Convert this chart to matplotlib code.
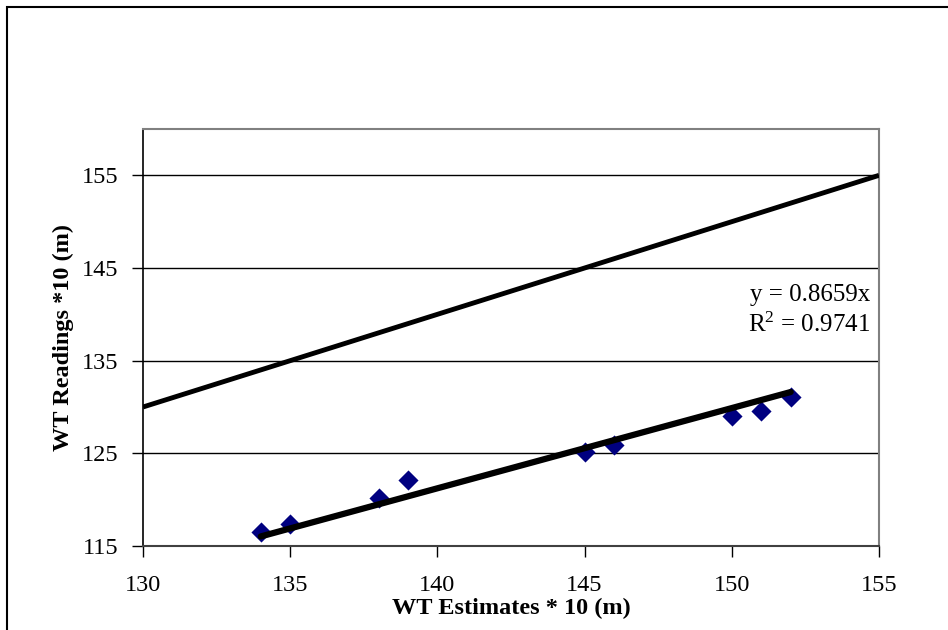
import matplotlib.pyplot as plt
import numpy as np
from matplotlib.patches import Rectangle

# WT estimates vs readings (both * 10, m)
estimates = [134, 135, 138, 139, 145, 146, 150, 151, 152]
readings = [116.5, 117.4, 120.2, 122.1, 125.1, 125.9, 129.05, 129.6, 131.1]
slope = 0.8659
r2 = 0.9741
one_to_one = [130, 155]

plt.rcParams['font.family'] = ['Liberation Serif', 'DejaVu Serif']

fig = plt.figure(figsize=(9.48, 6.3), dpi=100)
ax = fig.add_axes([143/948, 1 - 546/630, (879 - 143)/948, (546 - 129)/630])

# 1:1 line
ax.plot(one_to_one, one_to_one, color='black', lw=3.5, solid_capstyle='butt', zorder=3)

# data points
ax.scatter(estimates, readings, marker='D', s=105, color='#000080', zorder=4, linewidths=0)

# trend line through origin
xs = np.array([min(estimates), max(estimates)])
ax.plot(xs, slope * xs, color='black', lw=4.5, solid_capstyle='round', zorder=5)

ax.text(0.988, 0.602, 'y = 0.8659x', transform=ax.transAxes, ha='right', va='center', fontsize=18)
ax.text(0.988, 0.530, '$\\mathregular{R^2}$ = %.4f' % r2, transform=ax.transAxes,
        ha='right', va='center', fontsize=18)

ax.set_xlim(130, 155)
ax.set_ylim(115, 160)
ax.set_xticks(range(130, 156, 5))
ax.set_yticks(range(115, 156, 10))
ax.yaxis.grid(True, color='black', lw=1)
ax.set_axisbelow(True)
ax.tick_params(labelsize=17.5, length=8, width=1, direction='out', color='black')
ax.tick_params(axis='x', pad=13)
ax.tick_params(axis='y', pad=10)

for side in ['top', 'right']:
    ax.spines[side].set_color('#808080')
    ax.spines[side].set_linewidth(1.5)
ax.spines['left'].set_color('black')
ax.spines['bottom'].set_color('#404040')
ax.spines['left'].set_linewidth(1.2)
ax.spines['bottom'].set_linewidth(1.5)

ax.set_xlabel('WT Estimates * 10 (m)', fontsize=17.5, fontweight='bold', labelpad=1)
ax.set_ylabel('WT Readings *10 (m)', fontsize=17.5, fontweight='bold', labelpad=5)

# outer chart border (right and bottom fall outside the picture)
fig.patches.append(Rectangle((7/948, -0.05), 1.2, 1 - 7/630 + 0.05, transform=fig.transFigure,
                             fill=False, edgecolor='black', lw=1.5))

fig.savefig('out.png', dpi=100)
